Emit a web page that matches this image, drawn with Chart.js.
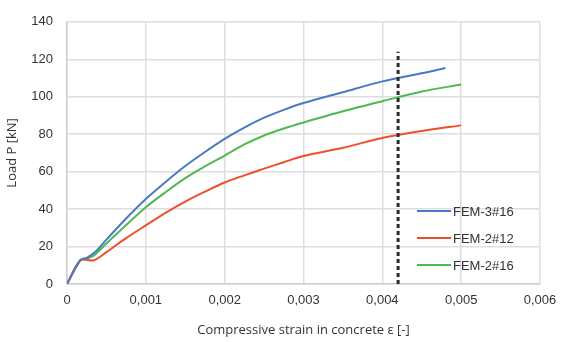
<!DOCTYPE html>
<html>
<head>
<meta charset="utf-8">
<script src="https://cdn.jsdelivr.net/npm/chart.js@4"></script>
<style>
  html, body { margin: 0; padding: 0; background: #fff; }
  #wrap { width: 568px; height: 342px; }
</style>
</head>
<body>
<div id="wrap"><canvas id="myChart" width="568" height="342"></canvas></div>
<script>
// strain values (x) and loads (y)
let strain_3x16 = [0, 0.00017, 0.00025, 0.00035, 0.0005, 0.00075, 0.001, 0.00125, 0.0015, 0.00175, 0.002, 0.00225, 0.0025, 0.00275, 0.003, 0.0035, 0.004, 0.0045, 0.0048];
let load_3x16   = [0, 12.7, 14, 16.8, 23.7, 35, 45.4, 54.5, 63, 70.5, 77.5, 83.5, 88.8, 93, 96.6, 102.4, 108.2, 112.5, 115.3];

let strain_2x12 = [0, 0.00017, 0.00034, 0.0005, 0.00075, 0.001, 0.00125, 0.0015, 0.00175, 0.002, 0.00225, 0.0025, 0.00275, 0.003, 0.0035, 0.004, 0.0045, 0.005];
let load_2x12   = [0, 12.7, 12.7, 17, 24.5, 31.3, 38, 44, 49.3, 54.2, 58, 61.6, 65, 68.3, 72.7, 78, 81.7, 84.7];

let strain_2x16 = [0, 0.00017, 0.00025, 0.00035, 0.0005, 0.00075, 0.001, 0.00125, 0.0015, 0.00175, 0.002, 0.00225, 0.0025, 0.00275, 0.003, 0.0035, 0.004, 0.0045, 0.005];
let load_2x16   = [0, 12.7, 13.5, 15.5, 21.6, 31.5, 41, 49, 56.5, 62.8, 68.6, 74.5, 79.3, 83, 86.2, 92.2, 97.6, 102.8, 106.5];

let limite_strain = [0.0042, 0.0042];
let limite_load   = [0, 124];

let nombres = ["FEM-3#16", "FEM-2#12", "FEM-2#16"];
let x_ticks = [0, 0.001, 0.002, 0.003, 0.004, 0.005, 0.006];

function puntos(xs, ys) {
  return xs.map((x, i) => ({ x: x, y: ys[i] }));
}

var colores = ["#4a78c6", "#f04e2c", "#50b94e"];

// legend drawn inside the plot area, right side
const leyenda = {
  id: "leyenda",
  afterDatasetsDraw(chart) {
    const ctx = chart.ctx;
    const filas = [211, 238, 265];
    ctx.save();
    chart.data.datasets.forEach((ds) => {
      if (ds.enLeyenda === undefined) return;
      let y = filas[ds.enLeyenda];
      ctx.strokeStyle = ds.borderColor;
      ctx.lineWidth = 2;
      ctx.beginPath();
      ctx.moveTo(417, y);
      ctx.lineTo(451, y);
      ctx.stroke();
      ctx.fillStyle = "#333";
      ctx.font = "13px 'Liberation Sans', Arial, sans-serif";
      ctx.textBaseline = "middle";
      ctx.fillText(ds.label, 453, y + 1);
    });
    ctx.restore();
  },
};

var my_chart = document.getElementById("myChart");

new Chart(my_chart, {
  type: "scatter",
  plugins: [leyenda],
  data: {
    datasets: [
      {
        label: "limite",
        data: puntos(limite_strain, limite_load),
        showLine: true,
        borderColor: "#2b2b2b",
        borderWidth: 3,
        borderDash: [4, 3],
        pointRadius: 0,
      },
      {
        label: nombres[0],
        enLeyenda: 0,
        data: puntos(strain_3x16, load_3x16),
        showLine: true,
        borderColor: colores[0],
        borderWidth: 2,
        pointRadius: 0,
        tension: 0.3,
      },
      {
        label: nombres[1],
        enLeyenda: 1,
        data: puntos(strain_2x12, load_2x12),
        showLine: true,
        borderColor: colores[1],
        borderWidth: 2,
        pointRadius: 0,
        tension: 0.3,
      },
      {
        label: nombres[2],
        enLeyenda: 2,
        data: puntos(strain_2x16, load_2x16),
        showLine: true,
        borderColor: colores[2],
        borderWidth: 2,
        pointRadius: 0,
        tension: 0.3,
      },
    ],
  },
  options: {
    responsive: false,
    animation: false,
    layout: { padding: { top: 20, right: 28, left: 0, bottom: 0 } },
    plugins: {
      legend: { display: false },
      tooltip: { enabled: false },
    },
    scales: {
      x: {
        type: "linear",
        min: 0,
        max: 0.006,
        afterBuildTicks: (scale) => {
          scale.ticks = x_ticks.map((v) => ({ value: v }));
        },
        afterFit: (scale) => { scale.height = 58; },
        grid: { color: "#dedede", lineWidth: 1.5, drawTicks: false },
        border: { color: "#cfcfcf", width: 1.5 },
        ticks: {
          color: "#333",
          padding: 9,
          font: { family: "'Liberation Sans', Arial, sans-serif", size: 13 },
          callback: (v) => (v === 0 ? "0" : (Math.round(v * 1000) / 1000).toFixed(3).replace(".", ",")),
        },
        title: {
          display: true,
          text: "Compressive strain in concrete ε [-]",
          color: "#333",
          font: { family: "'Open Sans', sans-serif", size: 13 },
          padding: { top: 0 },
        },
      },
      y: {
        min: 0,
        max: 140,
        ticks: {
          stepSize: 20,
          color: "#333",
          padding: 14,
          font: { family: "'Liberation Sans', Arial, sans-serif", size: 13 },
        },
        afterFit: (scale) => { scale.width = 67; },
        grid: { color: "#dedede", lineWidth: 1.5, drawTicks: false },
        border: { color: "#cfcfcf", width: 1.5 },
        title: {
          display: true,
          text: "Load P [kN]",
          color: "#333",
          font: { family: "'Open Sans', sans-serif", size: 13 },
          padding: { bottom: 0 },
        },
      },
    },
  },
});
</script>
</body>
</html>
